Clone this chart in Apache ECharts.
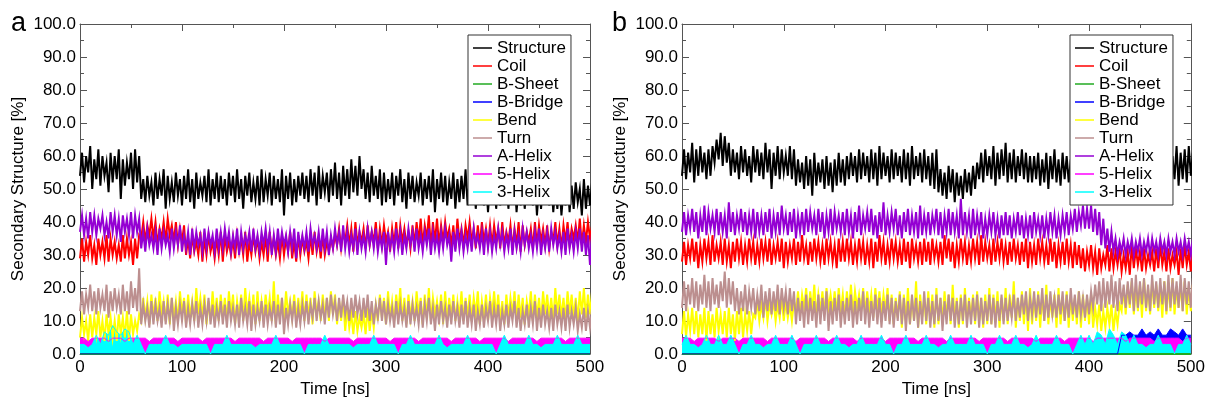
<!DOCTYPE html>
<html><head><meta charset="utf-8">
<script src="https://cdn.jsdelivr.net/npm/echarts@6/dist/echarts.min.js"></script>
<style>html,body{margin:0;padding:0;background:#fff}#c{width:1208px;height:403px}</style>
</head><body><div id="c"></div>
<script>
// ---- sampling of the time axis (ns): each sample holds the band's low and high edge ----
const STEP_NS = 4;
const N_SAMPLES = 126;
const TIME_NS = Array.from({length: N_SAMPLES}, (_, i) => i * STEP_NS);
const ZERO_T = [0, 500];

const SERIES_NAMES = ['Structure','Coil','B-Sheet','B-Bridge','Bend','Turn','A-Helix','5-Helix','3-Helix'];
const SERIES_COLORS = ['#000000','#ff0000','#22aa22','#0000ff','#ffff00','#bc8f8f','#9400d3','#ff00ff','#00ffff'];
const X_TICKS = [0,100,200,300,400,500];
const Y_TICKS = [0,10,20,30,40,50,60,70,80,90,100];
const PANEL_LABELS = ['a','b'];

// ================= panel a =================
const A_STRUCT_HI = [61,60,63,59,62,60,58,61,60,62,59,58,61,62,60,
53,54,52,55,53,56,54,52,55,53,54,56,53,55,52,54,56,53,55,54,
53,55,54,56,53,54,55,52,54,56,53,55,54,53,56,54,55,53,54,55,
54,56,55,57,54,55,56,58,55,57,56,59,57,60,56,55,57,54,56,55,
53,55,54,56,53,55,54,52,55,53,54,56,53,55,54,52,55,53,54,56,
53,54,52,55,53,51,54,52,53,55,52,54,51,53,52,54,53,51,52,54,53,51,52,50,53,51,52,50,53,51,52];
const A_STRUCT_LO = [54,52,55,50,53,51,54,49,52,53,47,51,53,50,52,
47,46,48,45,47,48,44,47,46,48,45,47,46,44,47,48,46,45,47,46,
47,45,48,46,47,44,48,46,47,45,46,48,45,47,46,42,47,45,46,48,
47,46,48,45,47,49,46,48,47,45,48,47,49,48,50,47,46,48,47,45,
46,47,45,48,46,44,47,46,48,45,47,46,43,47,46,45,47,44,46,47,
45,46,44,47,45,43,46,44,45,47,44,46,43,45,44,46,45,42,44,46,45,43,44,42,45,43,44,46,42,44,45];
const A_COIL_HI = [35,34,36,33,35,34,36,35,34,33,36,35,34,35,36,
40,39,41,40,38,40,41,39,40,38,39,
35,36,34,37,35,36,34,35,37,36,34,35,36,35,37,34,36,35,34,36,37,35,34,36,35,37,34,36,35,34,36,37,35,36,34,35,36,
38,37,39,38,40,37,38,39,37,40,38,39,37,38,40,39,38,37,39,40,
41,39,42,40,41,39,40,38,39,41,38,39,40,38,39,40,38,39,
39,38,40,37,39,38,40,39,37,38,40,39,38,39,37,40,38,39,40,38,39,41,39,40,39];
const A_COIL_LO = [29,28,30,29,27,30,29,28,30,29,28,29,30,27,29,
35,34,36,35,33,35,34,36,34,33,34,
30,29,31,30,28,30,31,29,30,28,31,30,29,31,30,28,30,31,29,30,28,31,30,29,30,31,29,28,30,31,29,30,31,29,30,31,32,
33,32,34,33,31,33,34,32,33,34,32,33,34,31,33,32,34,33,32,33,
34,33,35,32,34,33,34,35,33,32,34,33,35,34,32,33,34,33,
33,34,32,33,34,32,33,31,33,34,32,33,34,33,32,34,33,32,34,33,35,34,33,34,35];
const A_BSHEET = [0,0];
const A_BBRIDGE = [0,0];
const A_BEND_HI = [11,10,12,11,13,10,12,11,10,12,11,13,12,10,12,
17,16,18,17,19,16,18,17,16,19,17,18,16,20,17,18,16,19,17,18,
17,19,18,16,18,20,17,18,19,16,18,17,22,18,17,19,16,18,17,19,
18,17,19,16,18,17,19,18,16,17,
14,12,13,11,12,14,13,15,
18,17,19,16,18,20,17,18,16,19,17,18,20,17,16,18,19,17,18,16,19,17,
18,17,19,16,18,17,19,18,16,18,17,19,18,17,16,19,18,17,19,18,17,20,18,17,19,18,17,19,20,18,19];
const A_BEND_LO = [5,6,4,5,6,5,4,6,5,4,6,5,4,6,7,
10,11,9,11,10,12,10,9,11,10,12,9,11,10,12,11,9,10,11,10,
11,10,12,9,11,10,12,11,9,10,11,12,10,9,11,10,12,11,10,11,
10,11,9,12,10,11,10,12,9,10,
7,8,6,7,8,6,7,8,
10,11,9,11,10,12,10,9,11,10,12,9,11,10,12,11,9,10,11,10,11,10,
11,10,12,9,11,10,12,11,10,9,11,12,10,11,9,12,10,11,10,12,11,10,12,11,10,12,11,10,12,11,12];
const A_TURN_HI = [19,18,21,19,20,18,21,19,20,18,21,19,22,20,26,
15,14,16,15,14,16,15,17,14,15,16,14,15,16,14,15,17,15,14,16,
15,16,14,15,17,14,16,15,14,16,15,14,16,15,17,14,15,16,14,15,
16,15,17,16,15,17,18,16,17,18,16,17,18,16,17,18,16,15,17,16,
15,14,16,15,14,16,15,14,16,15,17,14,15,16,14,15,16,14,15,16,
14,15,13,15,14,16,14,15,13,15,14,16,14,13,15,14,16,14,15,13,14,15,13,14,15,13,14,12,14,13,14];
const A_TURN_LO = [13,12,14,13,12,14,13,11,13,14,12,13,12,14,13,
9,10,8,9,10,8,9,10,7,9,10,8,9,10,8,9,10,9,8,10,
9,8,10,9,8,10,9,7,9,10,8,9,10,8,9,6,9,10,8,9,
10,9,11,10,11,9,11,12,10,11,12,10,11,12,10,11,10,9,11,10,
9,10,8,9,10,8,9,10,9,8,10,9,7,9,10,8,9,10,8,9,
8,9,7,9,8,10,8,9,7,9,8,10,8,7,9,8,9,7,8,9,8,7,9,8,7,8,9,7,8,7,8];
const A_AHELIX_HI = [42,41,43,42,41,42,40,43,42,41,42,41,43,42,41,
37,38,36,37,38,37,36,38,37,39,36,37,38,37,36,38,37,36,38,37,
38,37,36,38,37,36,37,38,36,37,38,37,36,38,37,36,37,38,37,36,
37,38,36,37,38,37,36,38,37,39,37,36,38,37,36,38,37,38,36,37,
37,36,38,37,36,38,37,38,36,37,38,37,36,37,38,36,37,38,37,36,
37,38,36,37,38,37,36,38,37,36,38,37,36,38,37,36,37,38,36,37,38,37,36,37,38,36,37,38,37,36,37];
const A_AHELIX_LO = [37,36,35,37,36,38,36,35,37,36,34,37,36,35,37,
32,31,33,32,30,32,33,31,32,33,31,32,30,32,33,31,32,33,31,32,
32,33,31,32,30,32,33,31,32,31,33,32,30,31,32,33,31,32,29,32,
32,31,33,32,31,32,30,32,33,31,32,31,32,30,32,31,33,32,31,32,
27,32,31,32,30,32,33,31,32,31,33,30,32,31,32,33,28,31,32,31,
32,31,33,32,30,32,31,32,33,31,32,30,32,31,33,32,31,32,30,32,31,33,32,31,30,32,31,32,31,30,27];
const A_HELIX5 = [4.8,4.8,3.8,4.8,4.8,4.8,4.8,3.8,4.8,4.8,
4.8,3.8,4.8,4.8,4.8,4.8,4.8,3.8,4.8,4.8,
4.8,4.8,4.8,4.8,3.8,4.8,4.8,4.8,4.8,4.8,
3.8,4.8,4.8,4.8,4.8,4.8,4.8,4.8,3.8,4.8,
4.8,4.8,4.8,4.8,4.8,3.8,4.8,4.8,4.8,4.8,
4.8,4.8,3.8,4.8,4.8,4.8,4.8,4.8,4.8,4.8,
3.8,4.8,4.8,4.8,4.8,4.8,4.8,3.8,4.8,4.8,
4.8,4.8,4.8,4.8,4.8,4.8,3.8,4.8,4.8,4.8,
4.8,4.8,4.8,3.8,4.8,4.8,4.8,4.8,4.8,4.8,
4.8,3.8,4.8,4.8,4.8,4.8,4.8,4.8,3.8,4.8,
4.8,4.8,4.8,4.8,4.8,3.8,4.8,4.8,4.8,4.8,
4.8,4.8,3.8,4.8,4.8,4.8,4.8,4.8,4.8,3.8,
4.8,4.8,4.8,4.8,4.8,4.8];
const A_HELIX3 = [2.9,2.9,1.9,2.9,5.7,2.9,6.7,5.7,8.6,6.7,
5.7,7.6,6.7,2.9,5.7,2.9,0,2.9,2.9,2.9,
2.9,5.7,2.9,2.9,1.9,2.9,2.9,2.9,2.9,2.9,
2.9,2.9,0,2.9,2.9,2.9,5.7,2.9,2.9,2.9,
2.9,2.9,2.9,1.9,2.9,2.9,2.9,2.9,5.7,2.9,
2.9,2.9,2.9,2.9,2.9,0,2.9,2.9,2.9,2.9,
5.7,2.9,2.9,2.9,2.9,2.9,2.9,1.9,2.9,2.9,
2.9,2.9,5.7,2.9,2.9,2.9,2.9,2.9,0,2.9,
2.9,5.7,2.9,2.9,2.9,2.9,2.9,2.9,5.7,2.9,
1.9,2.9,2.9,2.9,2.9,5.7,2.9,2.9,2.9,2.9,
2.9,2.9,0,2.9,5.7,2.9,2.9,2.9,2.9,2.9,
5.7,2.9,2.9,1.9,2.9,2.9,2.9,5.7,2.9,2.9,
2.9,2.9,5.7,2.9,2.9,2.9];

// ================= panel b =================
const B_STRUCT_HI = [62,61,64,62,63,61,62,63,
65,67,66,64,
62,61,63,62,60,63,62,61,64,62,61,63,62,60,63,62,
59,58,60,59,61,58,59,60,58,59,61,59,60,
61,60,62,61,60,62,61,63,61,60,62,61,60,62,61,63,60,61,62,60,61,62,
56,55,57,56,55,54,56,55,57,58,
61,62,60,63,61,62,64,61,62,60,62,61,60,
60,61,59,61,60,62,59,61,60,59,61,60,62,60,61,
58,57,59,58,57,59,58,57,56,58,57,56,57,58,56,59,60,
61,62,60,63,61,62,63,61];
const B_STRUCT_LO = [54,53,55,52,54,55,53,54,
58,59,57,58,
54,55,53,55,54,52,55,54,53,55,50,54,53,55,54,53,
51,52,50,51,48,51,52,50,51,49,51,52,51,
53,54,52,53,54,52,53,51,53,54,52,53,54,52,53,51,53,54,52,53,51,50,
49,48,47,49,46,48,47,49,48,50,
53,52,54,53,51,53,54,52,53,52,54,53,52,
52,53,51,52,50,53,52,51,53,52,51,52,53,52,51,
51,50,52,51,50,51,49,50,51,49,50,51,49,50,51,52,53,
53,52,54,53,51,53,52,54];
const B_COIL_HI = [34,33,35,34,33,35,34,36,33,34,35,33,34,35,34,33,35,34,33,35,
34,35,33,34,35,34,33,35,34,36,33,34,35,34,33,35,34,33,35,34,
35,34,33,35,34,33,35,34,36,34,33,35,34,33,35,34,35,33,34,35,
34,35,33,34,36,35,34,33,35,34,33,35,34,36,34,33,35,34,35,33,
34,35,33,34,35,34,33,35,34,33,35,34,33,34,35,33,34,33,
32,31,33,31,32,30,33,32,31,32,30,31,33,32,31,32,30,31,32,33,31,32,30,31,32,33,31,32];
const B_COIL_LO = [28,27,29,28,26,28,29,27,28,29,27,28,26,28,29,27,28,29,27,28,
29,28,27,29,28,26,28,29,27,28,29,27,28,29,28,27,29,28,26,28,
28,29,27,28,29,27,28,26,28,29,27,28,29,28,27,28,26,29,28,27,
28,27,29,28,27,29,28,26,28,29,27,28,29,27,28,29,27,28,29,28,
27,28,29,27,28,26,28,27,29,28,27,28,26,28,27,28,26,27,
26,25,27,26,24,26,27,25,26,27,25,26,24,26,27,25,26,27,25,26,27,25,26,27,24,26,27,25];
const B_BSHEET = [0,0];
const B_BBRIDGE_T = [0,428,432,436,440,444,448,452,456,460,464,468,472,476,480,484,488,492,496,500];
const B_BBRIDGE = [0,0,5.7,5.7,6.7,5.7,5.7,7.6,5.7,6.7,5.7,7.6,5.7,5.7,7.6,6.7,5.7,7.6,5.7,5.7];
const B_BEND_HI = [13,12,14,13,12,14,13,12,14,12,13,14,12,13,14,12,13,12,
16,15,17,15,16,15,17,16,15,16,
19,18,20,19,21,18,19,20,18,19,20,18,19,21,19,18,20,19,18,20,19,18,20,
18,17,19,18,20,17,22,18,17,19,18,20,17,19,18,21,17,18,20,17,18,19,17,18,20,
18,19,17,20,18,22,17,19,18,20,17,19,18,21,17,18,20,17,19,18,17,19,18,17,18,
14,15,13,14,15,13,15,
20,21,22,20,21,23,20,22,21,20,22,21,23,20,21,22,20,21];
const B_BEND_LO = [6,5,7,6,5,6,4,6,5,7,6,5,6,4,6,5,7,6,
11,10,11,10,12,10,11,10,11,10,
13,12,14,12,13,11,13,12,14,13,12,13,11,13,12,14,13,12,13,11,13,12,13,
10,9,11,8,10,9,10,8,11,9,10,8,9,10,11,9,10,8,9,10,11,9,10,8,9,
9,10,8,10,9,11,8,10,9,7,9,10,8,10,9,11,8,9,10,8,10,9,8,10,9,
8,9,7,8,9,7,9,
13,12,14,12,13,11,13,12,14,13,11,12,13,12,14,13,12,13];
const B_TURN_HI = [22,21,23,22,21,24,22,23,21,22,25,23,22,
20,19,21,19,20,18,21,19,20,19,21,20,19,20,19,
17,16,18,17,16,18,17,19,16,17,18,16,17,18,16,17,19,17,16,18,
17,16,18,17,16,18,17,16,18,17,16,19,17,16,18,17,16,18,17,16,
17,18,16,17,18,17,16,18,17,16,18,17,16,18,17,
18,19,17,19,18,20,18,19,17,18,19,18,20,18,19,17,18,19,
21,22,23,22,24,22,23,21,22,23,24,22,23,21,24,22,23,22,24,23,22,24,23,22,23];
const B_TURN_LO = [14,13,15,14,13,15,14,13,15,14,16,14,15,
13,12,13,12,14,12,13,11,13,12,13,12,14,12,13,
9,10,8,9,10,8,9,10,7,9,10,8,9,10,8,9,10,9,8,10,
9,8,10,9,8,10,9,7,9,10,8,9,10,8,9,10,7,9,10,8,
9,10,8,9,10,8,9,10,9,8,10,9,10,11,10,
11,12,10,12,11,12,10,11,12,11,12,10,11,12,11,12,11,12,
14,15,13,14,15,14,13,15,14,15,13,14,15,14,13,15,14,15,13,14,15,14,13,15,14];
const B_AHELIX_HI = [43,42,44,43,42,45,43,42,44,43,42,46,43,42,44,43,42,44,43,42,
43,44,42,43,45,42,43,44,42,43,44,43,42,44,43,42,44,43,42,43,
44,42,43,45,42,43,44,42,43,46,42,43,44,42,43,44,42,43,45,42,
43,42,44,43,42,44,43,42,47,43,42,44,42,43,41,42,43,41,42,43,
42,41,43,42,41,42,43,41,42,41,43,42,41,42,43,42,44,43,45,44,
45,44,43,41,38,37,
35,34,35,34,35,34,35,34,35,35,34,35,34,35,34,35,34,35,34,35];
const B_AHELIX_LO = [37,36,38,37,35,37,36,38,37,36,37,35,37,36,38,37,36,37,35,37,
36,37,35,37,36,38,36,37,35,37,36,37,38,36,37,35,37,36,38,37,
36,37,35,37,36,38,37,36,35,37,36,37,38,36,35,37,36,37,35,36,
37,36,38,36,35,37,36,37,35,36,37,35,36,37,35,36,37,36,35,36,
36,35,37,36,35,36,35,37,36,35,36,37,35,36,37,36,38,37,39,38,
38,37,36,33,32,31,
31,30,31,30,31,30,31,30,31,30,31,30,31,30,31,30,31,30,31,30];
const B_HELIX5 = [4.8,4.8,4.8,3.8,4.8,4.8,4.8,4.8,4.8,3.8,
4.8,4.8,4.8,4.8,3.8,4.8,4.8,4.8,4.8,4.8,
4.8,3.8,4.8,4.8,4.8,4.8,4.8,4.8,3.8,4.8,
4.8,4.8,4.8,4.8,4.8,4.8,3.8,4.8,4.8,4.8,
4.8,4.8,4.8,3.8,4.8,4.8,4.8,4.8,4.8,4.8,
3.8,4.8,4.8,4.8,4.8,4.8,4.8,4.8,3.8,4.8,
4.8,4.8,4.8,4.8,4.8,3.8,4.8,4.8,4.8,4.8,
4.8,4.8,4.8,3.8,4.8,4.8,4.8,4.8,4.8,4.8,
3.8,4.8,4.8,4.8,4.8,4.8,4.8,3.8,4.8,4.8,
4.8,4.8,4.8,4.8,3.8,4.8,4.8,4.8,4.8,4.8,
4.8,3.8,4.8,4.8,4.8,4.8,4.8,4.8,4.8,3.8,
4.8,4.8,4.8,4.8,4.8,4.8,3.8,4.8,4.8,4.8,
4.8,4.8,4.8,3.8,4.8,4.8];
const B_HELIX3 = [2.9,5.7,2.9,2.9,1.9,2.9,5.7,2.9,2.9,5.7,
2.9,2.9,5.7,2.9,0,2.9,2.9,5.7,2.9,2.9,
1.9,2.9,2.9,5.7,2.9,2.9,2.9,5.7,2.9,0,
2.9,2.9,2.9,5.7,2.9,2.9,2.9,2.9,5.7,2.9,
2.9,1.9,2.9,2.9,5.7,2.9,2.9,2.9,2.9,5.7,
2.9,2.9,0,2.9,2.9,5.7,2.9,2.9,2.9,2.9,
5.7,2.9,2.9,1.9,2.9,2.9,5.7,2.9,2.9,2.9,
2.9,5.7,2.9,2.9,2.9,0,2.9,2.9,5.7,2.9,
2.9,2.9,5.7,2.9,2.9,1.9,2.9,5.7,2.9,2.9,
2.9,2.9,5.7,2.9,2.9,2.9,0,2.9,5.7,2.9,
5.7,2.9,6.7,5.7,2.9,7.6,5.7,2.9,6.7,5.7,
2.9,5.7,2.9,2.9,1.9,2.9,2.9,5.7,2.9,2.9,
2.9,0,2.9,2.9,5.7,2.9];

// ================= build =================
const FONT = 'Liberation Sans, Arial, Helvetica, sans-serif';
const AXIS_COLOR = '#555';
const GRIDS = [{left: 80, top: 24, width: 510, height: 339}, {left: 682, top: 24, width: 510, height: 339}];
const LEGEND_POS = [{left: 468, top: 35}, {left: 1070, top: 35}];

// envelope series: low edge at the sample time, high edge half a step later
function band(lo, hi) {
  const out = [];
  TIME_NS.forEach((t, i) => { out.push([t, lo[i]]); out.push([t + STEP_NS / 2, hi[i]]); });
  return out;
}
function plain(times, vals) { return times.map((t, i) => [t, vals[i]]); }

const PANELS = [
  [band(A_STRUCT_LO, A_STRUCT_HI), band(A_COIL_LO, A_COIL_HI), plain(ZERO_T, A_BSHEET), plain(ZERO_T, A_BBRIDGE),
   band(A_BEND_LO, A_BEND_HI), band(A_TURN_LO, A_TURN_HI), band(A_AHELIX_LO, A_AHELIX_HI),
   plain(TIME_NS, A_HELIX5), plain(TIME_NS, A_HELIX3)],
  [band(B_STRUCT_LO, B_STRUCT_HI), band(B_COIL_LO, B_COIL_HI), plain(ZERO_T, B_BSHEET), plain(B_BBRIDGE_T, B_BBRIDGE),
   band(B_BEND_LO, B_BEND_HI), band(B_TURN_LO, B_TURN_HI), band(B_AHELIX_LO, B_AHELIX_HI),
   plain(TIME_NS, B_HELIX5), plain(TIME_NS, B_HELIX3)]
];
const AREA_SERIES = {'B-Bridge': true, '5-Helix': true, '3-Helix': true};
const LINE_WIDTHS = {'B-Bridge': 1, '5-Helix': 1, '3-Helix': 1};

function xAxisDef(grid, pos) {
  const bottom = pos === 'bottom';
  return {
    gridIndex: grid, type: 'value', position: pos, min: X_TICKS[0], max: X_TICKS[X_TICKS.length-1],
    interval: X_TICKS[1]-X_TICKS[0],
    axisLine: {show: true, onZero: false, lineStyle: {color: AXIS_COLOR, width: 1}},
    axisTick: {show: true, inside: true, length: 7, lineStyle: {color: AXIS_COLOR}},
    minorTick: {show: true, splitNumber: 2, length: 4, lineStyle: {color: AXIS_COLOR}},
    splitLine: {show: false}, minorSplitLine: {show: false},
    axisLabel: {show: bottom, color: '#000', fontSize: 17, fontFamily: FONT, margin: 5},
    name: bottom ? 'Time [ns]' : '', nameLocation: 'middle', nameGap: 27,
    nameTextStyle: {color: '#000', fontSize: 17, fontFamily: FONT}
  };
}
function yAxisDef(grid, pos) {
  const left = pos === 'left';
  return {
    gridIndex: grid, type: 'value', position: pos, min: Y_TICKS[0], max: Y_TICKS[Y_TICKS.length-1],
    interval: Y_TICKS[1]-Y_TICKS[0],
    axisLine: {show: true, onZero: false, lineStyle: {color: AXIS_COLOR, width: 1}},
    axisTick: {show: true, inside: true, length: 7, lineStyle: {color: AXIS_COLOR}},
    minorTick: {show: true, splitNumber: 2, length: 4, lineStyle: {color: AXIS_COLOR}},
    splitLine: {show: false}, minorSplitLine: {show: false},
    axisLabel: {show: left, color: '#000', fontSize: 17, fontFamily: FONT, margin: 4, formatter: v => v.toFixed(1)},
    name: left ? 'Secondary Structure [%]' : '', nameLocation: 'middle', nameGap: 53,
    nameTextStyle: {color: '#000', fontSize: 17, fontFamily: FONT}
  };
}

const xAxes = [], yAxes = [], series = [], legends = [], graphics = [];
GRIDS.forEach((g, gi) => {
  xAxes.push(xAxisDef(gi, 'bottom'), xAxisDef(gi, 'top'));
  yAxes.push(yAxisDef(gi, 'left'), yAxisDef(gi, 'right'));
  SERIES_NAMES.forEach((name, si) => {
    const s = {
      name, type: 'line', xAxisIndex: gi*2, yAxisIndex: gi*2, clip: true,
      data: PANELS[gi][si],
      showSymbol: false, symbol: 'none', animation: false, silent: true,
      color: SERIES_COLORS[si],
      lineStyle: {color: SERIES_COLORS[si], width: LINE_WIDTHS[name] || 2, join: 'miter'}
    };
    if (AREA_SERIES[name]) s.areaStyle = {color: SERIES_COLORS[si], opacity: 1, origin: 'start'};
    series.push(s);
  });
  legends.push({
    left: LEGEND_POS[gi].left, top: LEGEND_POS[gi].top, orient: 'vertical',
    backgroundColor: '#fff', borderColor: '#333', borderWidth: 1,
    padding: [4, 5, 4, 5], itemGap: 0, itemWidth: 19, itemHeight: 1.5, icon: 'rect',
    selectedMode: false, data: SERIES_NAMES,
    textStyle: {color: '#000', fontSize: 17, lineHeight: 18, fontFamily: FONT}
  });
  graphics.push({type: 'text', left: gi === 0 ? 11 : 612, top: 10,
    style: {text: PANEL_LABELS[gi], font: '27px ' + FONT, fill: '#000'}});
});

const chart = echarts.init(document.getElementById('c'), null, {renderer: 'canvas'});
chart.setOption({
  animation: false, backgroundColor: '#fff',
  grid: GRIDS, xAxis: xAxes, yAxis: yAxes, series, legend: legends, graphic: graphics
});
</script></body></html>
